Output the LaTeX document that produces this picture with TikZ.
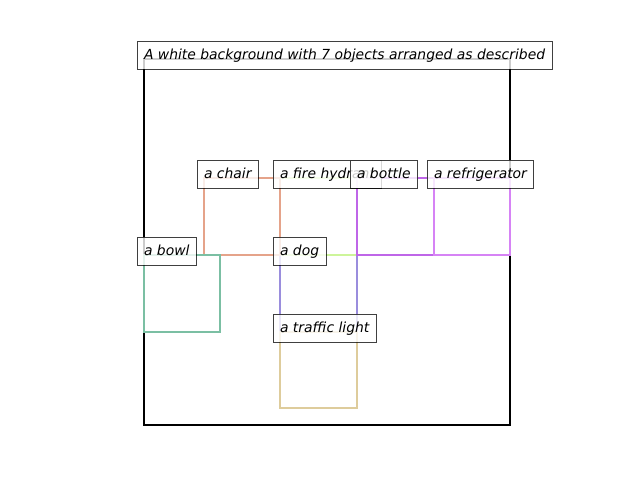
\documentclass[tikz,border=0pt]{standalone}
\usepackage{fontspec}
\setmainfont{DejaVu Sans}
\definecolor{cChair}{HTML}{E5A38A}
\definecolor{cHydrant}{HTML}{CDF59A}
\definecolor{cBottle}{HTML}{BF66E8}
\definecolor{cFridge}{HTML}{D683F5}
\definecolor{cBowl}{HTML}{7BBFA3}
\definecolor{cDog}{HTML}{9A8DDD}
\definecolor{cLight}{HTML}{DECC9C}
\tikzset{
  objbox/.style={line width=2pt},
  lbl/.style={anchor=base west, draw=black, draw opacity=0.75, line width=1pt,
    fill=white, fill opacity=0.8, text opacity=1, inner xsep=7pt, inner ysep=7pt,
    outer sep=0pt, text height=11pt, text depth=3pt,
    font=\fontsize{13.9}{16}\selectfont\itshape},
}
\begin{document}
\begin{tikzpicture}[x=1pt,y=-1pt]
\useasboundingbox (0,0) rectangle (640,480);
% frame
\draw[line width=2pt,black] (144,59) rectangle (510,425);
% object boxes
\draw[objbox,cDog] (280,255) rectangle (357,332);
\draw[objbox,cHydrant] (280,178) rectangle (357,255);
\draw[objbox,cChair] (204,178) rectangle (280,255);
\draw[objbox,cBowl] (144,255) rectangle (220,332);
\draw[objbox,cBottle] (357,178) rectangle (434,255);
\draw[objbox,cFridge] (434,178) rectangle (510,255);
\draw[objbox,cLight] (280,332) rectangle (357,408);
% labels
\node[lbl] (title) at (137,59) {A white background with 7 objects arranged as described};
\node[lbl] (chair) at (197,178) {a chair};
\node[lbl] (hydrant) at (273,178) {a fire hydrant};
\node[lbl] (bottle) at (350,178) {a bottle};
\node[lbl] (fridge) at (427,178) {a refrigerator};
\node[lbl] (bowl) at (137,255) {a bowl};
\node[lbl] (dog) at (273,255) {a dog};
\node[lbl] (light) at (273,332) {a traffic light};
\end{tikzpicture}
\end{document}
